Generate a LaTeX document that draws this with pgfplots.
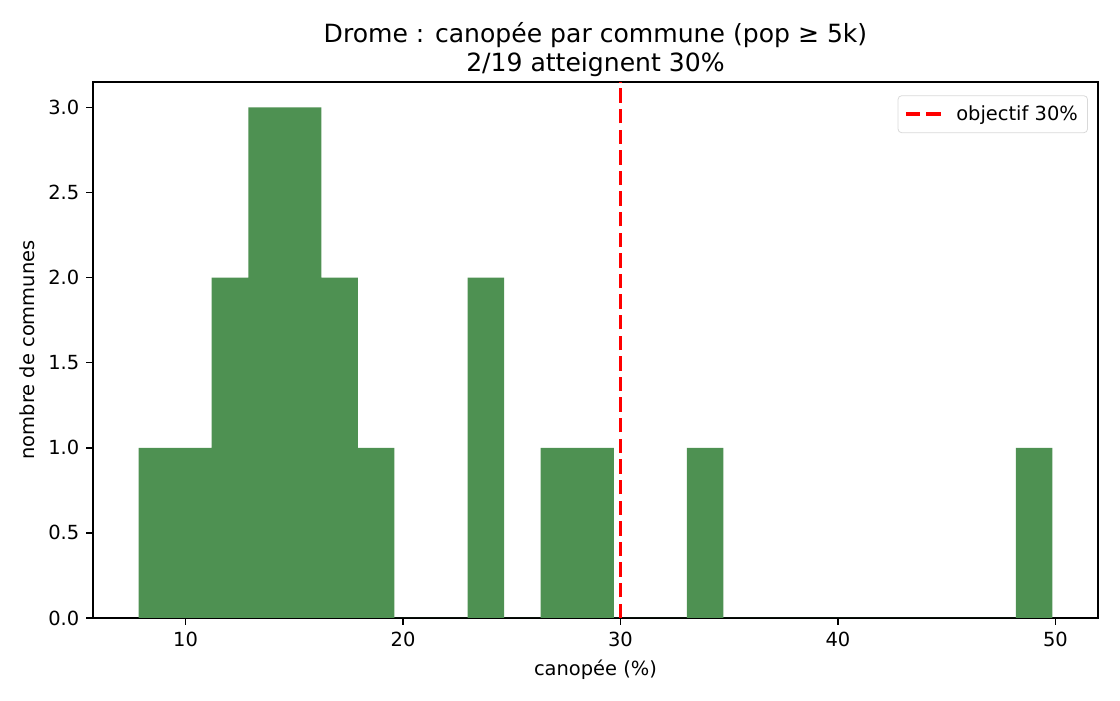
\documentclass[border=0pt]{standalone}
\usepackage{fontspec}
\setmainfont{DejaVu Sans}
\usepackage{pgfplots}
\pgfplotsset{compat=1.18}
\definecolor{barg}{RGB}{78,145,82}

\begin{document}
\begin{tikzpicture}
\begin{axis}[
  at={(0,0)}, anchor=origin,
  scale only axis,
  width=516.9pt, height=275.7pt,
  xmin=5.74, xmax=51.96,
  ymin=0, ymax=3.15,
  xtick={10,20,30,40,50},
  ytick={0,0.5,1,1.5,2,2.5,3},
  yticklabel style={/pgf/number format/.cd, fixed, fixed zerofill, precision=1},
  /pgf/number format/assume math mode=true,
  tick label style={font=\fontsize{10}{12}\selectfont},
  label style={font=\fontsize{10}{12}\selectfont},
  xlabel={canopée (\%)},
  ylabel={nombre de communes},
  title style={font=\fontsize{12.9}{15}\selectfont, align=center, yshift=-7pt},
  title={Drome : canopée par commune (pop ≥ 5k)\\2/19 atteignent 30\%},
  tick pos=left,
  tick align=outside,
  tick style={black, line width=0.8pt},
  major tick length=3.5pt,
  axis line style={line width=0.8pt},
  legend style={at={(0.99,0.975)}, anchor=north east, draw=black!15,
    rounded corners=2pt, font=\fontsize{10}{12}\selectfont,
    inner xsep=3pt, inner ysep=3pt},
  legend cell align=left,
  legend image code/.code={
    \draw[#1] (0pt,0pt) -- (18pt,0pt);
    \path (23pt,0pt);
  },
]
\addplot[ybar interval, fill=barg, draw=none, forget plot] coordinates {
  (7.840,1) (9.521,1) (11.202,2) (12.883,3) (14.564,3) (16.245,2)
  (17.926,1) (19.607,0) (21.288,0) (22.969,2) (24.650,0) (26.331,1)
  (28.012,1) (29.693,0) (31.374,0) (33.055,1) (34.736,0) (36.417,0)
  (38.098,0) (39.779,0) (41.460,0) (43.141,0) (44.822,0) (46.503,0)
  (48.184,1) (49.865,1)
};
\addplot[red, line width=2pt, dash pattern=on 7.4pt off 3.2pt] coordinates {(30,0) (30,3.15)};
\addlegendentry{objectif 30\%}
\end{axis}
\pgfresetboundingbox
\path[use as bounding box] (-47.8pt,-42.2pt) rectangle ++(576pt,360pt);
\end{tikzpicture}
\end{document}
